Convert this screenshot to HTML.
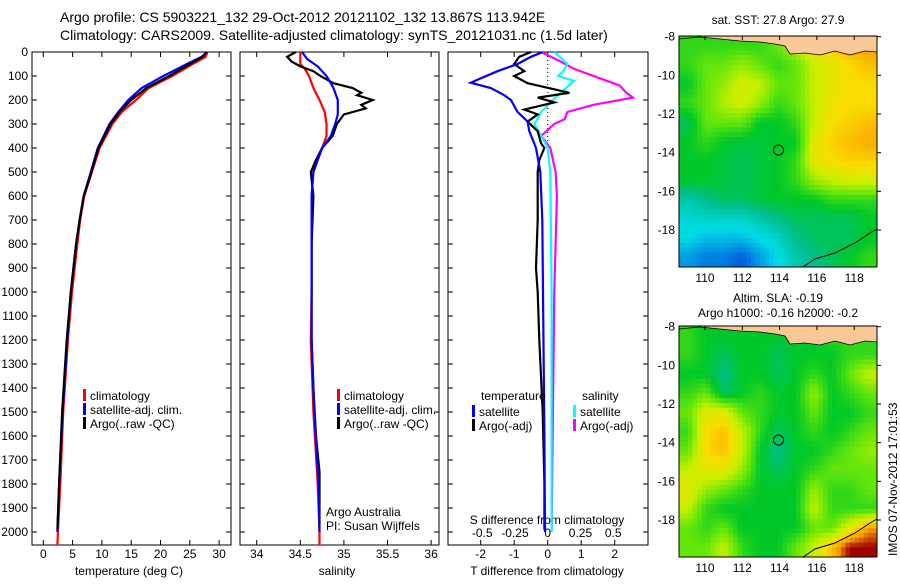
<!DOCTYPE html>
<html><head><meta charset="utf-8"><style>
body{margin:0;background:#fff}
svg text{font-family:"Liberation Sans",sans-serif;fill:#000}
</style></head><body>
<svg id="s" width="900" height="580" xmlns="http://www.w3.org/2000/svg">
<text x="60" y="22" font-size="14">Argo profile: CS 5903221_132 29-Oct-2012 20121102_132 13.867S 113.942E</text>
<text x="60" y="40" font-size="14">Climatology: CARS2009. Satellite-adjusted climatology: synTS_20121031.nc (1.5d later)</text>
<text x="778" y="24" font-size="12" text-anchor="middle">sat. SST: 27.8 Argo: 27.9</text>
<text x="778" y="302" font-size="12" text-anchor="middle">Altim. SLA: -0.19</text>
<text x="778" y="317" font-size="12" text-anchor="middle">Argo h1000: -0.16 h2000: -0.2</text>
<text transform="translate(897,556) rotate(-90)" font-size="12">IMOS 07-Nov-2012 17:01:53</text>
<g id="g"></g>
</svg>
<script>
// ---- data ----
const depthTicks=[0,100,200,300,400,500,600,700,800,900,1000,1100,1200,1300,1400,1500,1600,1700,1800,1900,2000];
const tempTicks=[0,5,10,15,20,25,30];
const salTicks=[34,34.5,35,35.5,36];
const tdTicks=[-2,-1,0,1,2];
const sdTicks=[-0.5,-0.25,0,0.25,0.5];
const sdTickLabels=["-0.5","-0.25","0","0.25","0.5"];
const salTickLabels=["34","34.5","35","35.5","36"];

const tClimD=[0,20,50,100,150,200,250,300,400,500,600,700,800,1000,1200,1500,1800,2000,2055];
const tClimV=[28,27.7,25.5,22,18,15.8,13.4,11.8,9.6,8.3,7,6.3,5.8,4.9,4.2,3.4,2.9,2.5,2.4];
const tSatD=[0,20,50,100,150,200,250,300,400,500,600,700,800,1000,1200,1500,1800,2000];
const tSatV=[28,27,24.5,20.5,16.8,14.5,12.8,11.3,9.3,8.1,6.9,6.2,5.6,4.7,4.1,3.3,2.7,2.4];
const tArgoD=[0,20,50,100,150,200,250,300,400,500,600,700,800,1000,1200,1500,1800,1990];
const tArgoV=[27.8,27.2,25,21.5,17.6,15,13,11.5,9.4,8.2,6.9,6.2,5.6,4.7,4.0,3.2,2.7,2.4];

const sClimD=[0,50,70,100,150,200,250,300,350,400,450,500,600,1000,1200,1500,1800,2000,2055];
const sClimV=[34.5,34.5,34.55,34.6,34.65,34.72,34.78,34.8,34.8,34.75,34.7,34.65,34.63,34.63,34.62,34.65,34.7,34.72,34.72];
const sSatD=[0,30,60,100,130,150,200,260,300,350,400,450,500,600,1000,1200,1500,1800,2000];
const sSatV=[34.52,34.58,34.7,34.8,34.85,34.88,34.93,34.93,34.9,34.85,34.75,34.7,34.65,34.63,34.63,34.63,34.66,34.71,34.72];
const sArgoD=[0,20,40,60,80,100,130,150,170,180,200,220,235,260,300,350,400,450,500,600,800,1000,1200,1400,1600,1750,1990];
const sArgoV=[34.45,34.35,34.4,34.5,34.65,34.73,34.88,35.1,35.2,35.15,35.33,35.2,35.25,35.0,34.92,34.87,34.75,34.68,34.62,34.65,34.63,34.63,34.63,34.65,34.68,34.72,34.72];

const dTSatD=[0,20,50,80,110,128,150,180,200,250,290,330,400,500,700,1000,1300,1600,2000];
const dTSatV=[-0.15,-0.5,-0.9,-1.5,-2.0,-2.3,-1.7,-1.3,-1.1,-0.9,-0.6,-0.55,-0.35,-0.22,-0.16,-0.14,-0.12,-0.1,-0.08];
const dTArgoD=[0,20,50,80,100,130,170,190,210,240,260,290,330,380,400,450,500,700,900,1000,1200,1500,1800,1990];
const dTArgoV=[-0.5,-0.85,-1.0,-0.7,-1.0,-0.6,0.65,-0.3,0.2,-0.7,-0.3,-0.6,-0.3,-0.2,-0.1,-0.25,-0.3,-0.3,-0.35,-0.3,-0.25,-0.15,-0.1,-0.1];
const dSSatD=[0,50,80,100,120,150,200,250,300,350,400,500,1000,2000];
const dSSatV=[0.05,0.15,0.12,0.08,0.2,0.14,0.04,-0.05,-0.1,-0.05,0,0.02,0.03,0.03];
const dSArgoD=[0,40,70,100,120,140,170,190,210,220,250,280,300,350,400,500,600,1000,1500,2000];
const dSArgoV=[-0.05,0.1,0.2,0.35,0.45,0.55,0.6,0.65,0.45,0.35,0.15,0.13,0.05,-0.05,0.02,0.06,0.07,0.05,0.04,0.03];

const sstGrid=[
[.55,.55,.55,.55,.55,.6,.7,.8,.85,.9,.9],
[.55,.6,.6,.65,.6,.55,.6,.7,.75,.8,.85],
[.5,.6,.65,.72,.7,.6,.6,.7,.75,.8,.8],
[.55,.6,.68,.72,.65,.55,.6,.7,.78,.8,.8],
[.45,.6,.6,.6,.5,.5,.55,.7,.8,.82,.85],
[.5,.55,.5,.48,.48,.5,.5,.75,.82,.85,.88],
[.5,.5,.48,.45,.48,.5,.55,.75,.8,.82,.82],
[.5,.5,.48,.45,.48,.5,.55,.65,.7,.72,.72],
[.35,.4,.45,.45,.48,.5,.5,.5,.55,.55,.55],
[.28,.3,.3,.3,.35,.4,.45,.45,.45,.45,.5],
[.25,.2,.2,.2,.25,.3,.4,.45,.45,.45,.5],
[.15,.1,.1,.05,.15,.25,.35,.4,.45,.5,.55]];
const slaGrid=[
[.55,.5,.5,.5,.5,.5,.5,.5,.55,.55,.55],
[.55,.5,.45,.5,.5,.45,.5,.5,.5,.55,.55],
[.5,.5,.4,.5,.5,.45,.5,.55,.5,.6,.7],
[.55,.6,.45,.5,.55,.5,.5,.65,.5,.55,.6],
[.6,.75,.75,.6,.55,.5,.5,.6,.5,.5,.55],
[.55,.8,.85,.7,.55,.45,.5,.55,.5,.55,.6],
[.6,.8,.85,.7,.5,.4,.5,.5,.55,.6,.65],
[.7,.75,.75,.65,.5,.45,.5,.55,.6,.6,.6],
[.75,.65,.6,.55,.5,.5,.5,.65,.55,.55,.6],
[.7,.55,.5,.5,.5,.5,.5,.7,.55,.55,.55],
[.6,.55,.6,.5,.5,.5,.5,.6,.6,.75,.9],
[.6,.6,.7,.55,.5,.5,.6,.7,.85,1,1]];
const lonTicks=[110,112,114,116,118];
const latTicks=[-8,-10,-12,-14,-16,-18];

// ---- drawing ----
const NS="http://www.w3.org/2000/svg", G=document.getElementById('g');
function mk(t,a,p){const e=document.createElementNS(NS,t);for(const k in a)e.setAttribute(k,a[k]);(p||G).appendChild(e);return e;}
const Y0=52, YS=0.24, PB=545;
const yD=d=>Y0+d*YS;
const panels=[{x0:32,x1:231},{x0:240,x1:439},{x0:448,x1:648}];
const xT=v=>43.3+v*5.86, xS=v=>256.7+(v-34)*87.2, xdT=v=>547.7+v*33.5, xdS=v=>547.7+v*131;
function line(D,V,fx,col,name){
  const pts=D.map((d,i)=>fx(V[i]).toFixed(1)+','+yD(d).toFixed(1)).join(' ');
  const e=mk('polyline',{points:pts,fill:'none',stroke:col,'stroke-width':2.2});
  
  
}
panels.forEach((p,i)=>{
  const r=mk('rect',{x:p.x0,y:Y0,width:p.x1-p.x0,height:PB-Y0,fill:'#fff',stroke:'#000','stroke-width':1});
  
  
  depthTicks.forEach(d=>{
    mk('line',{x1:p.x0,x2:p.x0+5,y1:yD(d),y2:yD(d),stroke:'#000'});
    mk('line',{x1:p.x1-5,x2:p.x1,y1:yD(d),y2:yD(d),stroke:'#000'});
  });
});
depthTicks.forEach(d=>{const t=mk('text',{x:28,y:yD(d)+4,'font-size':12,'text-anchor':'end'});t.textContent=d;
  
  });
function xticks(vals,labels,fx,ybase,top){vals.forEach((v,i)=>{const x=fx(v);
  mk('line',{x1:x,x2:x,y1:PB-5,y2:PB,stroke:'#000'}); if(top)mk('line',{x1:x,x2:x,y1:Y0,y2:Y0+5,stroke:'#000'});
  const t=mk('text',{x:x,y:ybase,'font-size':12,'text-anchor':'middle'});t.textContent=labels[i];
  
  });}
xticks(tempTicks,tempTicks,xT,558,true);
xticks(salTicks,salTickLabels,xS,558,true);
xticks(tdTicks,tdTicks,xdT,558,true);
sdTicks.forEach((v,i)=>{const t=mk('text',{x:xdS(v),y:537,'font-size':12,'text-anchor':'middle'});t.textContent=sdTickLabels[i];
  
  });
function lab(x,y,s,name,anchor){const t=mk('text',{x:x,y:y,'font-size':12,'text-anchor':anchor||'middle'});t.textContent=s;
  
  }
lab(129,575,'temperature (deg C)','temperature-axis-title');
lab(337,575,'salinity','salinity-axis-title');
lab(547,575,'T difference from climatology','t-diff-axis-title');
lab(547,524,'S difference from climatology','s-diff-axis-title');
lab(326,516,'Argo Australia','credit-line-1','start');
lab(326,530,'PI: Susan Wijffels','credit-line-2','start');
mk('line',{x1:xdT(0),x2:xdT(0),y1:Y0,y2:yD(420),stroke:'#000','stroke-dasharray':'1,3'});
line(tClimD,tClimV,xT,'#f00','temp-climatology-line');
line(tSatD,tSatV,xT,'#00f','temp-satellite-line');
line(tArgoD,tArgoV,xT,'#000','temp-argo-line');
line(sClimD,sClimV,xS,'#f00','sal-climatology-line');
line(sArgoD,sArgoV,xS,'#000','sal-argo-line');
line(sSatD,sSatV,xS,'#00f','sal-satellite-line');
line(dSArgoD,dSArgoV,xdS,'#f0f','sdiff-argo-line');
line(dSSatD,dSSatV,xdS,'#0ff','sdiff-satellite-line');
line(dTArgoD,dTArgoV,xdT,'#000','tdiff-argo-line');
line(dTSatD,dTSatV,xdT,'#00f','tdiff-satellite-line');
function leg(x,y,col,s,name){mk('rect',{x:x,y:y-9,width:3,height:12,fill:col});const t=mk('text',{x:x+7,y:y+2,'font-size':12});t.textContent=s;
  
  }
[[32,'legend-1'],[286,'legend-2']].forEach(([x,n])=>{
  leg(x+51,398,'#f00','climatology',n+'-climatology');
  leg(x+51,412,'#00f','satellite-adj. clim.',n+'-satellite');
  leg(x+51,426,'#000','Argo(..raw -QC)',n+'-argo');});
lab(481,400,'temperature','legend-temp-header','start');
leg(472,414,'#00f','satellite','legend-tdiff-satellite');
leg(472,428,'#000','Argo(-adj)','legend-tdiff-argo');
lab(582,400,'salinity','legend-sal-header','start');
leg(573,414,'#0ff','satellite','legend-sdiff-satellite');
leg(573,428,'#f0f','Argo(-adj)','legend-sdiff-argo');
// maps
const MX0=679,MX1=877;
const lonX=l=>705+(l-110)*18.65;
function cmap(v){const st=[[0,[0,60,220]],[.25,[0,220,230]],[.4,[0,190,140]],[.5,[0,200,40]],[.6,[100,230,10]],[.7,[200,240,0]],[.8,[250,220,0]],[.9,[250,160,0]],[1,[160,0,0]]];
  for(let i=1;i<st.length;i++){if(v<=st[i][0]){const a=st[i-1],b=st[i],f=(v-a[0])/(b[0]-a[0]);return 'rgb('+a[1].map((c,k)=>Math.round(c+(b[1][k]-c)*f)).join(',')+')';}}return 'rgb(160,0,0)';}
function samp(grid,fr,fc){const R=grid.length,C=grid[0].length;
  fr=Math.max(0,Math.min(R-1,fr));fc=Math.max(0,Math.min(C-1,fc));
  const r0=Math.floor(fr),c0=Math.floor(fc),r1=Math.min(R-1,r0+1),c1=Math.min(C-1,c0+1),a=fr-r0,b=fc-c0;
  return grid[r0][c0]*(1-a)*(1-b)+grid[r0][c1]*(1-a)*b+grid[r1][c0]*a*(1-b)+grid[r1][c1]*a*b;}
function map(grid,top,name){
  const bot=top+231, latY=l=>top+0.7+(-8-l)*19.33;
  const g=mk('g',{});
  
  
  const NC=grid[0].length*4, NR=grid.length*4;
  const cw=(MX1-MX0)/NC, ch=(bot-top)/NR;
  for(let r=0;r<NR;r++)for(let c=0;c<NC;c++){
    const v=samp(grid,(r+0.5)/4-0.5,(c+0.5)/4-0.5);
    mk('rect',{x:(MX0+c*cw).toFixed(2),y:(top+r*ch).toFixed(2),width:(cw+0.4).toFixed(2),height:(ch+0.4).toFixed(2),fill:cmap(v)},g);}
  mk('polygon',{points:`700,${top} 877,${top} 877,${top+16} 865,${top+15} 850,${top+19} 835,${top+15} 820,${top+19} 805,${top+17} 790,${top+18} 785,${top+10} 775,${top+8} 760,${top+6} 740,${top+5} 720,${top+3} 700,${top+1}`,fill:'#f9c896',stroke:'#000','stroke-width':0.8},g);
  mk('polyline',{points:`${MX0},${top+3} 700,${top+1}`,fill:'none',stroke:'#000','stroke-width':0.8},g);
  mk('polyline',{points:`803,${bot} 815,${bot-8} 835,${bot-14} 855,${bot-24} 870,${bot-34} 877,${bot-38}`,fill:'none',stroke:'#000','stroke-width':1},g);
  mk('circle',{cx:lonX(113.942),cy:latY(-13.867),r:5,fill:'none',stroke:'#000','stroke-width':1},g);
  mk('rect',{x:MX0,y:top,width:MX1-MX0,height:bot-top,fill:'none',stroke:'#000'},g);
  lonTicks.forEach(l=>{const x=lonX(l);mk('line',{x1:x,x2:x,y1:top,y2:top+4,stroke:'#000'},g);
    const t=mk('text',{x:x,y:bot+15,'font-size':12,'text-anchor':'middle'},g);t.textContent=l;});
  latTicks.forEach(l=>{const y=latY(l);mk('line',{x1:MX1,x2:MX1+4,y1:y,y2:y,stroke:'#000'},g);
    const t=mk('text',{x:MX0-4,y:y+4,'font-size':12,'text-anchor':'end'},g);t.textContent=l;});
}
map(sstGrid,36,'sst-map');
map(slaGrid,326,'sla-map');
</script>
</body></html>
